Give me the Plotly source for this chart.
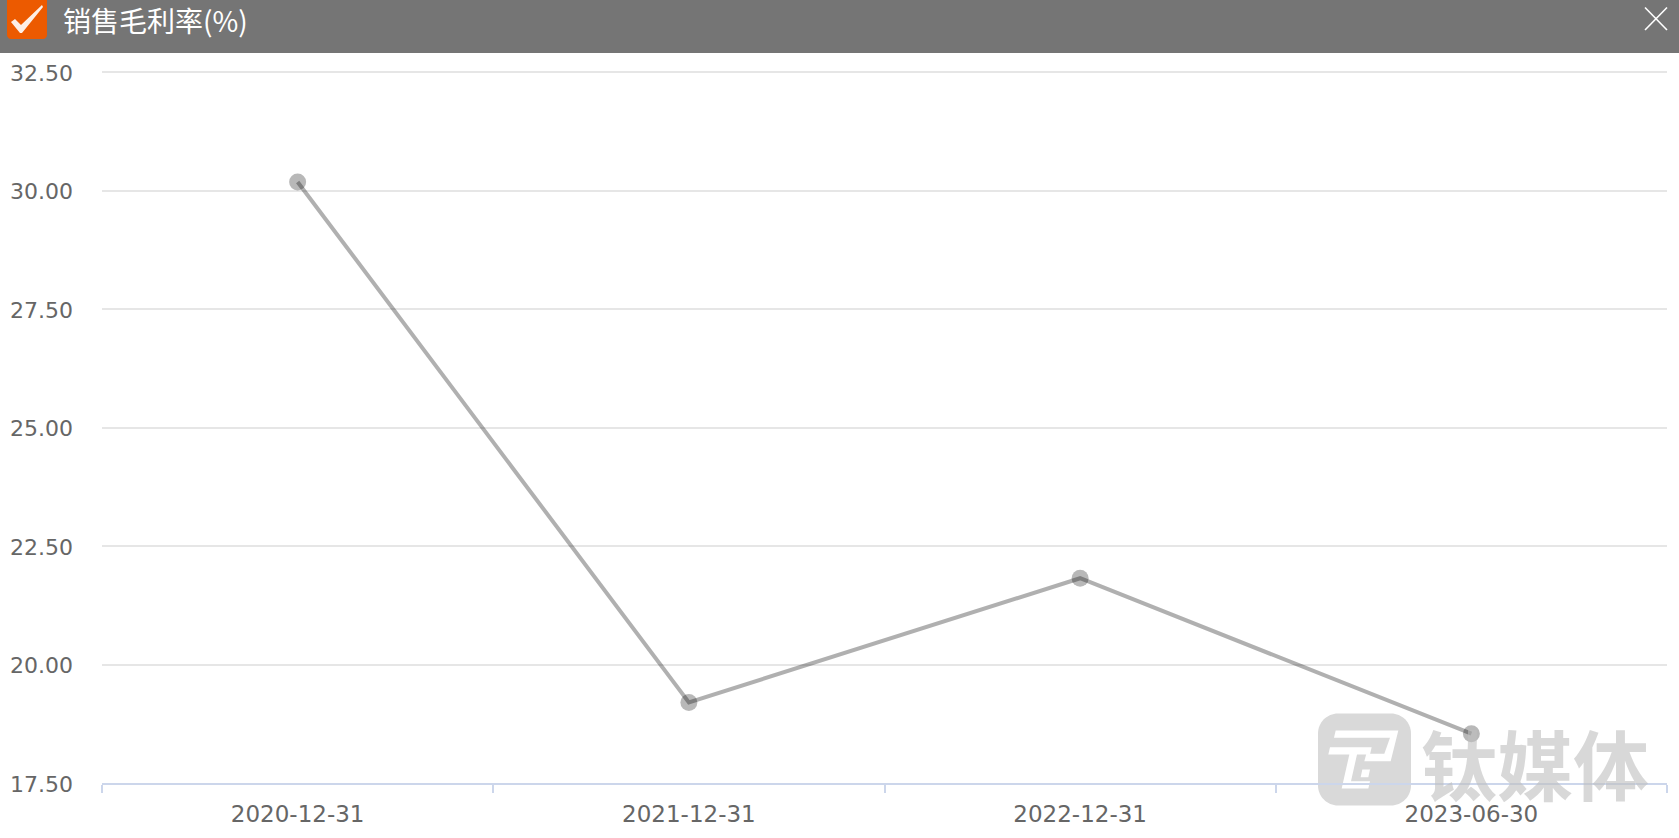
import plotly.graph_objects as go

# ── DATA ─────────────────────────────────────────────────────────
dates = ['2020-12-31', '2021-12-31', '2022-12-31', '2023-06-30']
margin_pct = [30.18, 19.20, 21.82, 18.54]
y_ticks = [17.5, 20, 22.5, 25, 27.5, 30, 32.5]
title_text = '销售毛利率(%)'
watermark_text = '钛媒体'

# page size and plot box, in pixels
W, H = 1679, 838
L, R, T, B = 102, 1667, 70, 783.5
TOP_GRID = 72  # pixel row of the 32.50 gridline

# plotly drops gridlines within 1px of the axis ends, so the box starts a bit higher
y_top = 32.5 + (TOP_GRID - T) * 15 / (B - TOP_GRID)


def px(x):
    return (x - L) / (R - L)


def py(y):
    return (B - y) / (B - T)


def poly(points, color, layer='above'):
    path = 'M ' + ' L '.join(f'{px(x):.5f} {py(y):.5f}' for x, y in points) + ' Z'
    return dict(type='path', xref='paper', yref='paper', path=path,
                fillcolor=color, line=dict(width=0), layer=layer)


def logo(points):
    return [(1325 + x / 3, 725 + y / 3) for x, y in points]


def rounded(x0, y0, x1, y1, r):
    k = r * 0.45
    return (f'M {px(x0 + r):.5f} {py(y0):.5f} L {px(x1 - r):.5f} {py(y0):.5f} '
            f'C {px(x1 - k):.5f} {py(y0):.5f} {px(x1):.5f} {py(y0 + k):.5f} {px(x1):.5f} {py(y0 + r):.5f} '
            f'L {px(x1):.5f} {py(y1 - r):.5f} '
            f'C {px(x1):.5f} {py(y1 - k):.5f} {px(x1 - k):.5f} {py(y1):.5f} {px(x1 - r):.5f} {py(y1):.5f} '
            f'L {px(x0 + r):.5f} {py(y1):.5f} '
            f'C {px(x0 + k):.5f} {py(y1):.5f} {px(x0):.5f} {py(y1 - k):.5f} {px(x0):.5f} {py(y1 - r):.5f} '
            f'L {px(x0):.5f} {py(y0 + r):.5f} '
            f'C {px(x0):.5f} {py(y0 + k):.5f} {px(x0 + k):.5f} {py(y0):.5f} {px(x0 + r):.5f} {py(y0):.5f} Z')


fig = go.Figure()
fig.add_trace(go.Scatter(
    x=dates, y=margin_pct, mode='lines+markers',
    line=dict(color='rgba(0,0,0,0.31)', width=4),
    marker=dict(color='rgba(0,0,0,0.28)', size=17, line=dict(width=0)),
    showlegend=False, hoverinfo='x+y'))

shapes = [
    # header bar
    dict(type='rect', xref='paper', yref='paper', x0=px(0), x1=px(W), y0=py(0), y1=py(53),
         fillcolor='#757575', line=dict(width=0), layer='above'),
    dict(type='path', xref='paper', yref='paper', path=rounded(7, -6, 47, 39, 4),
         fillcolor='#ec5a00', line=dict(width=0), layer='above'),
    poly([(11, 22), (15, 19), (21, 25), (42, 5), (43, 7), (22, 33), (20, 33)], 'rgba(255,255,255,0.9)'),
    dict(type='line', xref='paper', yref='paper', x0=px(1645), x1=px(1667), y0=py(7.5), y1=py(30),
         line=dict(color='white', width=1.6), layer='above'),
    dict(type='line', xref='paper', yref='paper', x0=px(1645), x1=px(1667), y0=py(30), y1=py(7.5),
         line=dict(color='white', width=1.6), layer='above'),
    # watermark logo
    dict(type='path', xref='paper', yref='paper', path=rounded(1318, 714, 1411, 806, 20),
         fillcolor='#d9d9d9', line=dict(width=0), layer='below'),
    poly(logo([(32, 18), (220, 18), (197, 110), (118, 110), (124, 88), (178, 88), (195, 40), (27, 40)]), 'white', 'below'),
    poly(logo([(15, 68), (140, 68), (135, 90), (96, 90), (78, 170), (135, 170), (130, 192),
               (50, 192), (73, 90), (10, 90)]), 'white', 'below'),
    poly(logo([(112, 135), (135, 135), (130, 158), (107, 158)]), 'white', 'below'),
]

annotations = [
    dict(text=title_text, xref='paper', yref='paper', x=px(61), y=py(20), xanchor='left', yanchor='middle',
         showarrow=False, font=dict(family='Noto Sans CJK SC', size=28, color='white')),
    dict(text=watermark_text, xref='paper', yref='paper', x=px(1535), y=py(762), xanchor='center', yanchor='middle',
         showarrow=False,
         font=dict(family='Noto Sans CJK SC', size=76, color='rgba(190,190,190,0.6)', weight=700)),
]

fig.update_layout(
    width=W, height=H, autosize=False,
    margin=dict(l=L, r=W - R, t=T, b=H - B, pad=0),
    paper_bgcolor='white', plot_bgcolor='white',
    shapes=shapes, annotations=annotations,
    font=dict(family='DejaVu Sans', color='#666666', size=22),
)
fig.update_xaxes(
    type='category', range=[-0.5, 3.5], tickmode='array', tickvals=dates, ticktext=dates,
    tickson='boundaries', ticks='outside', ticklen=8, tickwidth=1.5, tickcolor='#ccd6eb',
    showline=True, linecolor='#ccd6eb', linewidth=2, showgrid=False, zeroline=False,
    ticklabelstandoff=9, automargin=False,
    tickfont=dict(family='DejaVu Sans', size=23, color='#666666'))
fig.update_yaxes(
    range=[17.5, y_top], tickmode='array', tickvals=y_ticks, ticktext=[f'{v:.2f}' for v in y_ticks],
    showgrid=True, gridcolor='#e6e6e6', gridwidth=1.5, zeroline=False, showline=False,
    ticks='', ticklabelstandoff=28, ticklabelshift=1, automargin=False,
    tickfont=dict(family='DejaVu Sans', size=22, color='#666666'))

fig.write_html('out.html', config=dict(displayModeBar=False),
               post_script="document.body.style.margin='0';document.body.style.overflow='hidden';")
